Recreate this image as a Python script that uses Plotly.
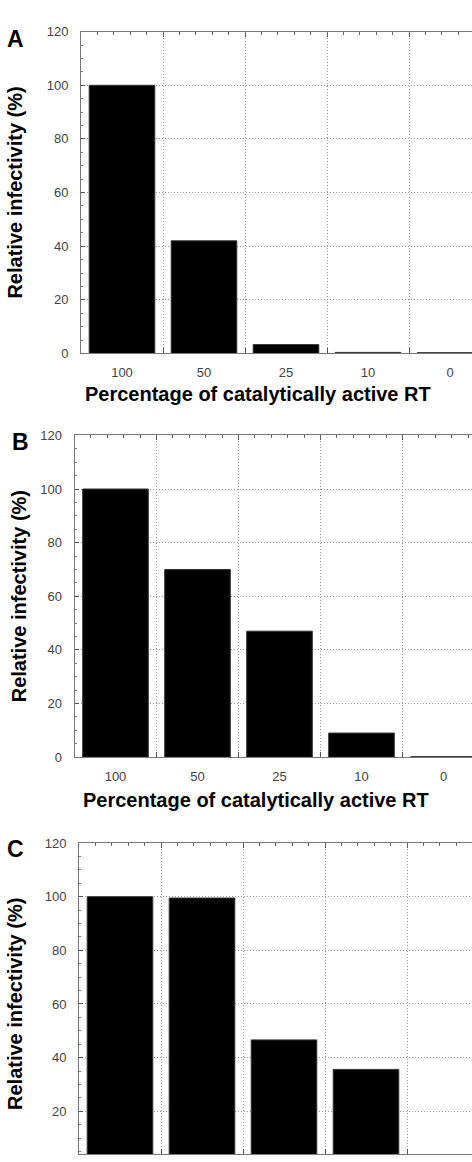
import plotly.graph_objects as go

W, H = 472, 1162

categories = ["100", "50", "25", "10", "0"]
values_a = [100, 42, 3.3, 0.4, 0.3]
values_b = [100, 70, 47, 9, 0.2]
values_c = [100, 99.5, 46.6, 35.6, 0]
y_ticks = [0, 20, 40, 60, 80, 100, 120]
panel_labels = ["A", "B", "C"]
x_title = "Percentage of catalytically active RT"
y_title = "Relative infectivity (%)"

FONT = "Arial, Liberation Sans, sans-serif"

panels = [
    dict(vals=values_a, left=81, top=25, bottom=351, ymin=0, xt=(258, 392), yt=(15, 188), lab=(15.5, 32), xtitle=True),
    dict(vals=values_b, left=74.5, top=434, bottom=760, ymin=0, xt=(256, 803), yt=(19, 597), lab=(20, 441), xtitle=True),
    dict(vals=values_c, left=79, top=847, bottom=H, ymin=120 - (H - 847) / (326 / 120), xt=None, yt=(15, 1010), lab=(15, 853), xtitle=False),
]
SPACING = 82.0
GRID = dict(showgrid=True, gridcolor="#999", griddash="1px,2px", gridwidth=1)

fig = go.Figure()
annotations = []
for i, p in enumerate(panels):
    n = i + 1
    xa = "x" if n == 1 else f"x{n}"
    ya = "y" if n == 1 else f"y{n}"
    fig.add_trace(go.Bar(
        x=categories, y=p["vals"], xaxis=xa, yaxis=ya, width=0.8,
        marker=dict(color="black", line=dict(color="#333", width=1)),
        showlegend=False, hoverinfo="skip",
    ))
    xmax = -0.5 + (W - p["left"]) / SPACING
    xkey = "xaxis" if n == 1 else f"xaxis{n}"
    ykey = "yaxis" if n == 1 else f"yaxis{n}"
    # overlay axis for the fine top ticks
    ov = n + 3
    fig.add_trace(go.Scatter(x=[], y=[], xaxis=f"x{ov}", yaxis=ya, showlegend=False, hoverinfo="skip"))
    fig.update_layout(**{
        xkey: dict(
            type="category", domain=[p["left"] / W, 1.0], anchor=ya,
            range=[-0.5, xmax], tickson="boundaries", ticks="inside", ticklen=5,
            tickcolor="#555", showline=True, linecolor="#777", linewidth=1,
            mirror="ticks", **GRID, showticklabels=p["xtitle"], ticklabelstandoff=7,
            tickfont=dict(family=FONT, size=13, color="#444"), zeroline=False,
        ),
        f"xaxis{ov}": dict(
            overlaying=xa, anchor=ya, side="top", type="linear",
            range=[-0.5, xmax], tick0=-0.5, dtick=0.2, ticks="inside", ticklen=3,
            tickcolor="#666", showticklabels=False, showgrid=False, showline=False,
            zeroline=False,
        ),
        ykey: dict(
            domain=[1 - p["bottom"] / H, 1 - p["top"] / H], anchor=xa,
            range=[p["ymin"], 120], tickvals=y_ticks, ticks="inside", ticklen=4,
            tickcolor="#555", showline=True, linecolor="#777", linewidth=1,
            **GRID, zeroline=False, ticklabelstandoff=9,
            tickfont=dict(family=FONT, size=13, color="#444"),
            minor=dict(dtick=5, ticks="inside", ticklen=2, tickcolor="#777", showgrid=False),
        ),
    })
    if p["xt"]:
        annotations.append(dict(text=f"<b>{x_title}</b>", x=p["xt"][0] / W, y=1 - p["xt"][1] / H,
                                xref="paper", yref="paper", showarrow=False, xanchor="center", yanchor="middle",
                                font=dict(family=FONT, size=20, color="black")))
    annotations.append(dict(text=f"<b>{y_title}</b>", x=p["yt"][0] / W, y=1 - p["yt"][1] / H,
                            xref="paper", yref="paper", showarrow=False, textangle=-90,
                            xanchor="center", yanchor="middle",
                            font=dict(family=FONT, size=20, color="black")))
    annotations.append(dict(text=f"<b>{panel_labels[i]}</b>", x=p["lab"][0] / W, y=1 - p["lab"][1] / H,
                            xref="paper", yref="paper", showarrow=False, xanchor="center", yanchor="middle",
                            font=dict(family=FONT, size=23, color="black")))

fig.update_layout(
    width=W, height=H, autosize=False,
    margin=dict(l=0, r=0, t=0, b=0),
    paper_bgcolor="white", plot_bgcolor="white",
    bargap=0.2, annotations=annotations,
    font=dict(family=FONT),
)

fig.write_html("out.html")
